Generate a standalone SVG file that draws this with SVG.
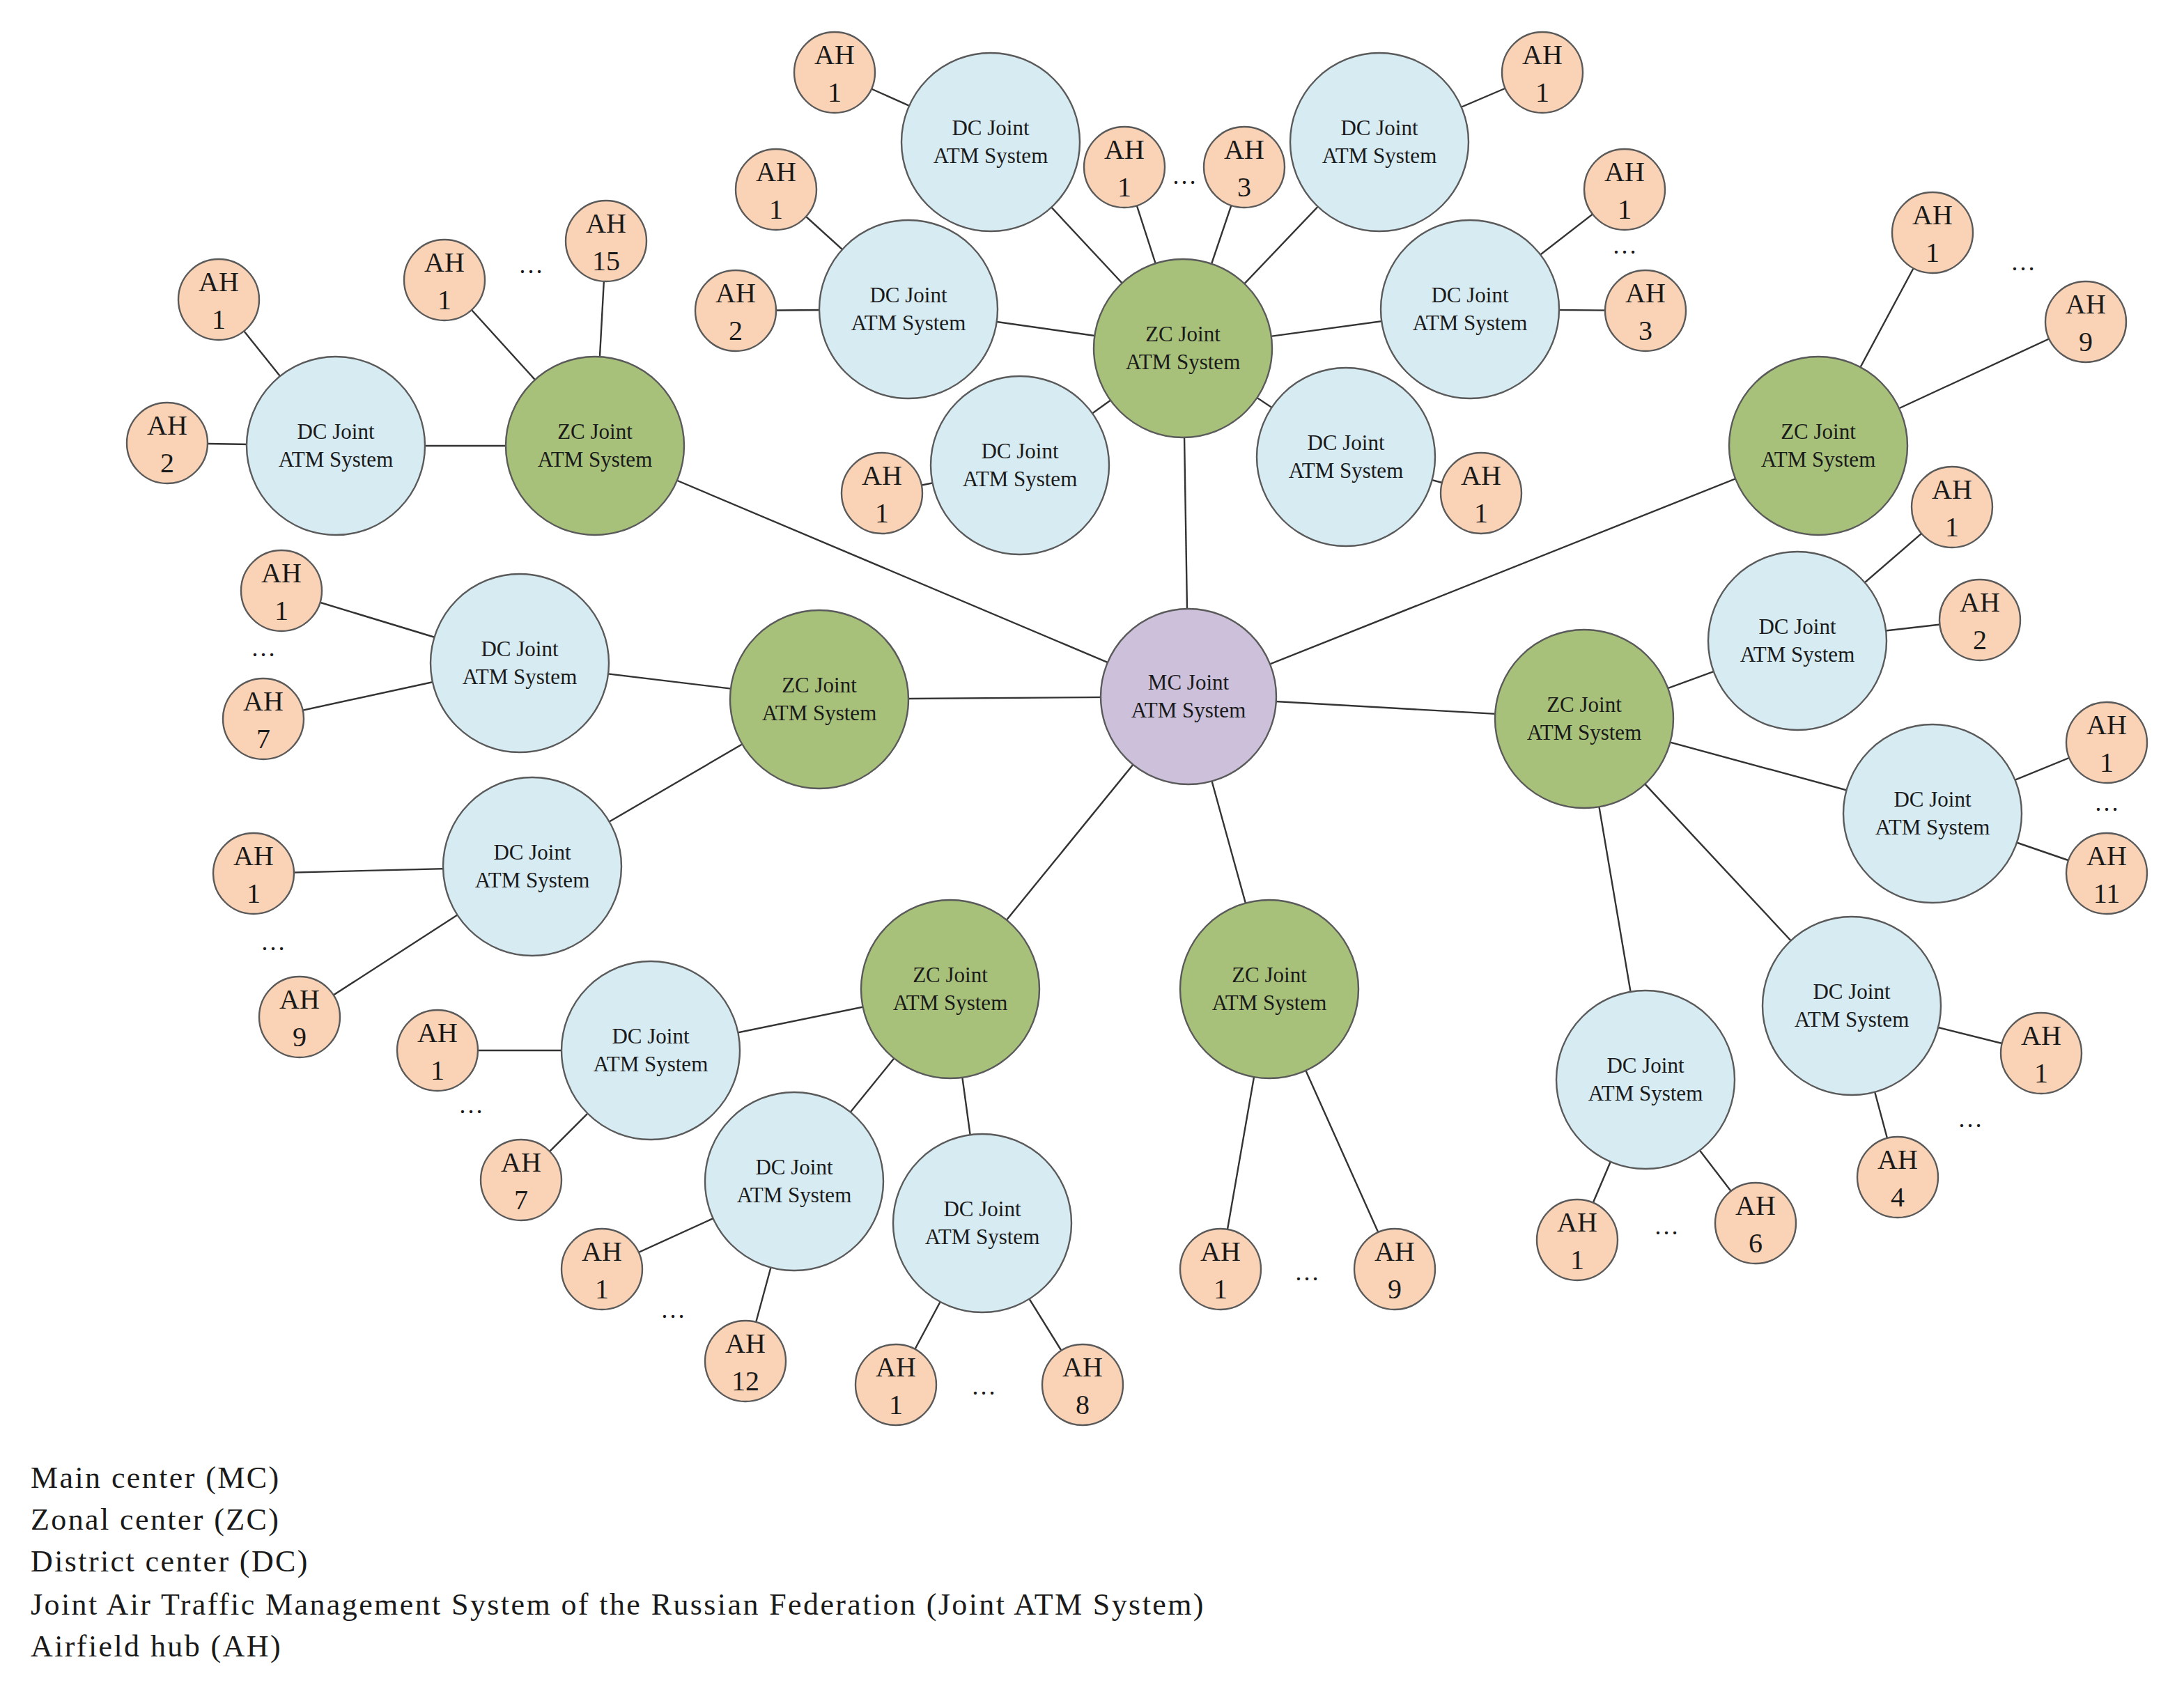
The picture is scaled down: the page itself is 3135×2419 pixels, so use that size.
<svg xmlns="http://www.w3.org/2000/svg" width="3135" height="2419" viewBox="0 0 3135 2419">
<style>
text{font-family:"Liberation Serif","Times New Roman",serif;fill:#1a1a1a;text-anchor:middle}
.n{font-size:15.5px}
.a{font-size:20px}
.l{font-size:22px;text-anchor:start;letter-spacing:1.2px}
.d{font-size:18px}
.mc{fill:#ccc0da;stroke:#5a5a5a;stroke-width:1.2}
.zc{fill:#a7c17a;stroke:#5a5a5a;stroke-width:1.2}
.dc{fill:#d7ebf3;stroke:#5a5a5a;stroke-width:1.2}
.ah{fill:#fad3b6;stroke:#5a5a5a;stroke-width:1.2}
#edges line{stroke:#333;stroke-width:1.2}
</style>
<rect width="3135" height="2419" fill="#fff"/>
<g transform="scale(2.0,2.0)">
<g id="edges">
<line x1="853" y1="500" x2="427" y2="320"/><line x1="853" y1="500" x2="849" y2="250"/><line x1="853" y1="500" x2="1305" y2="320"/><line x1="853" y1="500" x2="588" y2="502"/><line x1="853" y1="500" x2="1137" y2="516"/><line x1="853" y1="500" x2="682" y2="710"/><line x1="853" y1="500" x2="911" y2="710"/>
<line x1="427" y1="320" x2="241" y2="320"/><line x1="241" y1="320" x2="157" y2="215"/><line x1="241" y1="320" x2="120" y2="318"/><line x1="427" y1="320" x2="319" y2="201"/><line x1="427" y1="320" x2="435" y2="173"/>
<line x1="849" y1="250" x2="711" y2="102"/><line x1="849" y1="250" x2="990" y2="102"/><line x1="849" y1="250" x2="652" y2="222"/><line x1="849" y1="250" x2="1055" y2="222"/><line x1="849" y1="250" x2="732" y2="334"/><line x1="849" y1="250" x2="966" y2="328"/><line x1="849" y1="250" x2="807" y2="120"/><line x1="849" y1="250" x2="893" y2="120"/>
<line x1="711" y1="102" x2="599" y2="52"/><line x1="990" y1="102" x2="1107" y2="52"/><line x1="652" y1="222" x2="557" y2="136"/><line x1="652" y1="222" x2="528" y2="223"/><line x1="1055" y1="222" x2="1166" y2="136"/><line x1="1055" y1="222" x2="1181" y2="223"/><line x1="732" y1="334" x2="633" y2="354"/><line x1="966" y1="328" x2="1063" y2="354"/>
<line x1="1305" y1="320" x2="1387" y2="167"/><line x1="1305" y1="320" x2="1497" y2="231"/>
<line x1="588" y1="502" x2="373" y2="476"/><line x1="588" y1="502" x2="382" y2="622"/><line x1="373" y1="476" x2="202" y2="424"/><line x1="373" y1="476" x2="189" y2="516"/><line x1="382" y1="622" x2="182" y2="627"/><line x1="382" y1="622" x2="215" y2="730"/>
<line x1="1137" y1="516" x2="1290" y2="460"/><line x1="1137" y1="516" x2="1387" y2="584"/><line x1="1137" y1="516" x2="1329" y2="722"/><line x1="1137" y1="516" x2="1181" y2="775"/>
<line x1="1290" y1="460" x2="1401" y2="364"/><line x1="1290" y1="460" x2="1421" y2="445"/><line x1="1387" y1="584" x2="1512" y2="533"/><line x1="1387" y1="584" x2="1512" y2="627"/><line x1="1329" y1="722" x2="1465" y2="756"/><line x1="1329" y1="722" x2="1362" y2="845"/><line x1="1181" y1="775" x2="1132" y2="890"/><line x1="1181" y1="775" x2="1260" y2="878"/>
<line x1="911" y1="710" x2="876" y2="911"/><line x1="911" y1="710" x2="1001" y2="911"/>
<line x1="682" y1="710" x2="467" y2="754"/><line x1="682" y1="710" x2="570" y2="848"/><line x1="682" y1="710" x2="705" y2="878"/>
<line x1="705" y1="878" x2="643" y2="994"/><line x1="705" y1="878" x2="777" y2="994"/><line x1="570" y1="848" x2="432" y2="911"/><line x1="570" y1="848" x2="535" y2="977"/><line x1="467" y1="754" x2="314" y2="754"/><line x1="467" y1="754" x2="374" y2="847"/>
</g>
<g id="MC"><circle class="mc" cx="853" cy="500" r="63"/><text class="n" x="853" y="495">MC Joint</text><text class="n" x="853" y="515">ATM System</text></g>
<g id="Z1"><circle class="zc" cx="427" cy="320" r="64"/><text class="n" x="427" y="315">ZC Joint</text><text class="n" x="427" y="335">ATM System</text></g>
<g id="Z2"><circle class="zc" cx="849" cy="250" r="64"/><text class="n" x="849" y="245">ZC Joint</text><text class="n" x="849" y="265">ATM System</text></g>
<g id="Z3"><circle class="zc" cx="1305" cy="320" r="64"/><text class="n" x="1305" y="315">ZC Joint</text><text class="n" x="1305" y="335">ATM System</text></g>
<g id="Z4"><circle class="zc" cx="588" cy="502" r="64"/><text class="n" x="588" y="497">ZC Joint</text><text class="n" x="588" y="517">ATM System</text></g>
<g id="Z5"><circle class="zc" cx="1137" cy="516" r="64"/><text class="n" x="1137" y="511">ZC Joint</text><text class="n" x="1137" y="531">ATM System</text></g>
<g id="Z6"><circle class="zc" cx="682" cy="710" r="64"/><text class="n" x="682" y="705">ZC Joint</text><text class="n" x="682" y="725">ATM System</text></g>
<g id="Z7"><circle class="zc" cx="911" cy="710" r="64"/><text class="n" x="911" y="705">ZC Joint</text><text class="n" x="911" y="725">ATM System</text></g>
<g id="D1"><circle class="dc" cx="241" cy="320" r="64"/><text class="n" x="241" y="315">DC Joint</text><text class="n" x="241" y="335">ATM System</text></g>
<g id="D2"><circle class="dc" cx="711" cy="102" r="64"/><text class="n" x="711" y="97">DC Joint</text><text class="n" x="711" y="117">ATM System</text></g>
<g id="D3"><circle class="dc" cx="990" cy="102" r="64"/><text class="n" x="990" y="97">DC Joint</text><text class="n" x="990" y="117">ATM System</text></g>
<g id="D4"><circle class="dc" cx="652" cy="222" r="64"/><text class="n" x="652" y="217">DC Joint</text><text class="n" x="652" y="237">ATM System</text></g>
<g id="D5"><circle class="dc" cx="1055" cy="222" r="64"/><text class="n" x="1055" y="217">DC Joint</text><text class="n" x="1055" y="237">ATM System</text></g>
<g id="D6"><circle class="dc" cx="732" cy="334" r="64"/><text class="n" x="732" y="329">DC Joint</text><text class="n" x="732" y="349">ATM System</text></g>
<g id="D7"><circle class="dc" cx="966" cy="328" r="64"/><text class="n" x="966" y="323">DC Joint</text><text class="n" x="966" y="343">ATM System</text></g>
<g id="D8"><circle class="dc" cx="373" cy="476" r="64"/><text class="n" x="373" y="471">DC Joint</text><text class="n" x="373" y="491">ATM System</text></g>
<g id="D9"><circle class="dc" cx="382" cy="622" r="64"/><text class="n" x="382" y="617">DC Joint</text><text class="n" x="382" y="637">ATM System</text></g>
<g id="D10"><circle class="dc" cx="1290" cy="460" r="64"/><text class="n" x="1290" y="455">DC Joint</text><text class="n" x="1290" y="475">ATM System</text></g>
<g id="D11"><circle class="dc" cx="1387" cy="584" r="64"/><text class="n" x="1387" y="579">DC Joint</text><text class="n" x="1387" y="599">ATM System</text></g>
<g id="D12"><circle class="dc" cx="1329" cy="722" r="64"/><text class="n" x="1329" y="717">DC Joint</text><text class="n" x="1329" y="737">ATM System</text></g>
<g id="D13"><circle class="dc" cx="1181" cy="775" r="64"/><text class="n" x="1181" y="770">DC Joint</text><text class="n" x="1181" y="790">ATM System</text></g>
<g id="D14"><circle class="dc" cx="467" cy="754" r="64"/><text class="n" x="467" y="749">DC Joint</text><text class="n" x="467" y="769">ATM System</text></g>
<g id="D15"><circle class="dc" cx="570" cy="848" r="64"/><text class="n" x="570" y="843">DC Joint</text><text class="n" x="570" y="863">ATM System</text></g>
<g id="D16"><circle class="dc" cx="705" cy="878" r="64"/><text class="n" x="705" y="873">DC Joint</text><text class="n" x="705" y="893">ATM System</text></g>
<g id="AH">
<g id="ah1"><circle class="ah" cx="157" cy="215" r="29"/><text class="a" x="157" y="209">AH</text><text class="a" x="157" y="236">1</text></g>
<g id="ah2"><circle class="ah" cx="120" cy="318" r="29"/><text class="a" x="120" y="312">AH</text><text class="a" x="120" y="339">2</text></g>
<g id="ah3"><circle class="ah" cx="319" cy="201" r="29"/><text class="a" x="319" y="195">AH</text><text class="a" x="319" y="222">1</text></g>
<g id="ah4"><circle class="ah" cx="435" cy="173" r="29"/><text class="a" x="435" y="167">AH</text><text class="a" x="435" y="194">15</text></g>
<g id="ah5"><circle class="ah" cx="599" cy="52" r="29"/><text class="a" x="599" y="46">AH</text><text class="a" x="599" y="73">1</text></g>
<g id="ah6"><circle class="ah" cx="1107" cy="52" r="29"/><text class="a" x="1107" y="46">AH</text><text class="a" x="1107" y="73">1</text></g>
<g id="ah7"><circle class="ah" cx="807" cy="120" r="29"/><text class="a" x="807" y="114">AH</text><text class="a" x="807" y="141">1</text></g>
<g id="ah8"><circle class="ah" cx="893" cy="120" r="29"/><text class="a" x="893" y="114">AH</text><text class="a" x="893" y="141">3</text></g>
<g id="ah9"><circle class="ah" cx="557" cy="136" r="29"/><text class="a" x="557" y="130">AH</text><text class="a" x="557" y="157">1</text></g>
<g id="ah10"><circle class="ah" cx="528" cy="223" r="29"/><text class="a" x="528" y="217">AH</text><text class="a" x="528" y="244">2</text></g>
<g id="ah11"><circle class="ah" cx="1166" cy="136" r="29"/><text class="a" x="1166" y="130">AH</text><text class="a" x="1166" y="157">1</text></g>
<g id="ah12"><circle class="ah" cx="1181" cy="223" r="29"/><text class="a" x="1181" y="217">AH</text><text class="a" x="1181" y="244">3</text></g>
<g id="ah13"><circle class="ah" cx="633" cy="354" r="29"/><text class="a" x="633" y="348">AH</text><text class="a" x="633" y="375">1</text></g>
<g id="ah14"><circle class="ah" cx="1063" cy="354" r="29"/><text class="a" x="1063" y="348">AH</text><text class="a" x="1063" y="375">1</text></g>
<g id="ah15"><circle class="ah" cx="1387" cy="167" r="29"/><text class="a" x="1387" y="161">AH</text><text class="a" x="1387" y="188">1</text></g>
<g id="ah16"><circle class="ah" cx="1497" cy="231" r="29"/><text class="a" x="1497" y="225">AH</text><text class="a" x="1497" y="252">9</text></g>
<g id="ah17"><circle class="ah" cx="1401" cy="364" r="29"/><text class="a" x="1401" y="358">AH</text><text class="a" x="1401" y="385">1</text></g>
<g id="ah18"><circle class="ah" cx="1421" cy="445" r="29"/><text class="a" x="1421" y="439">AH</text><text class="a" x="1421" y="466">2</text></g>
<g id="ah19"><circle class="ah" cx="1512" cy="533" r="29"/><text class="a" x="1512" y="527">AH</text><text class="a" x="1512" y="554">1</text></g>
<g id="ah20"><circle class="ah" cx="1512" cy="627" r="29"/><text class="a" x="1512" y="621">AH</text><text class="a" x="1512" y="648">11</text></g>
<g id="ah21"><circle class="ah" cx="1465" cy="756" r="29"/><text class="a" x="1465" y="750">AH</text><text class="a" x="1465" y="777">1</text></g>
<g id="ah22"><circle class="ah" cx="1362" cy="845" r="29"/><text class="a" x="1362" y="839">AH</text><text class="a" x="1362" y="866">4</text></g>
<g id="ah23"><circle class="ah" cx="1132" cy="890" r="29"/><text class="a" x="1132" y="884">AH</text><text class="a" x="1132" y="911">1</text></g>
<g id="ah24"><circle class="ah" cx="1260" cy="878" r="29"/><text class="a" x="1260" y="872">AH</text><text class="a" x="1260" y="899">6</text></g>
<g id="ah25"><circle class="ah" cx="876" cy="911" r="29"/><text class="a" x="876" y="905">AH</text><text class="a" x="876" y="932">1</text></g>
<g id="ah26"><circle class="ah" cx="1001" cy="911" r="29"/><text class="a" x="1001" y="905">AH</text><text class="a" x="1001" y="932">9</text></g>
<g id="ah27"><circle class="ah" cx="643" cy="994" r="29"/><text class="a" x="643" y="988">AH</text><text class="a" x="643" y="1015">1</text></g>
<g id="ah28"><circle class="ah" cx="777" cy="994" r="29"/><text class="a" x="777" y="988">AH</text><text class="a" x="777" y="1015">8</text></g>
<g id="ah29"><circle class="ah" cx="432" cy="911" r="29"/><text class="a" x="432" y="905">AH</text><text class="a" x="432" y="932">1</text></g>
<g id="ah30"><circle class="ah" cx="535" cy="977" r="29"/><text class="a" x="535" y="971">AH</text><text class="a" x="535" y="998">12</text></g>
<g id="ah31"><circle class="ah" cx="314" cy="754" r="29"/><text class="a" x="314" y="748">AH</text><text class="a" x="314" y="775">1</text></g>
<g id="ah32"><circle class="ah" cx="374" cy="847" r="29"/><text class="a" x="374" y="841">AH</text><text class="a" x="374" y="868">7</text></g>
<g id="ah33"><circle class="ah" cx="182" cy="627" r="29"/><text class="a" x="182" y="621">AH</text><text class="a" x="182" y="648">1</text></g>
<g id="ah34"><circle class="ah" cx="215" cy="730" r="29"/><text class="a" x="215" y="724">AH</text><text class="a" x="215" y="751">9</text></g>
<g id="ah35"><circle class="ah" cx="202" cy="424" r="29"/><text class="a" x="202" y="418">AH</text><text class="a" x="202" y="445">1</text></g>
<g id="ah36"><circle class="ah" cx="189" cy="516" r="29"/><text class="a" x="189" y="510">AH</text><text class="a" x="189" y="537">7</text></g>
</g>
<g id="dots">
<text class="d" x="381" y="196">…</text><text class="d" x="850" y="132">…</text><text class="d" x="1166" y="182">…</text><text class="d" x="1452" y="194">…</text><text class="d" x="1512" y="582">…</text><text class="d" x="1414" y="809">…</text><text class="d" x="1196" y="886">…</text><text class="d" x="938" y="919">…</text><text class="d" x="706" y="1001">…</text><text class="d" x="483" y="946">…</text><text class="d" x="338" y="799">…</text><text class="d" x="196" y="682">…</text><text class="d" x="189" y="471">…</text>
</g>
<g id="legend">
<text class="l" x="22" y="1068">Main center (MC)</text>
<text class="l" x="22" y="1098">Zonal center (ZC)</text>
<text class="l" x="22" y="1128">District center (DC)</text>
<text class="l" x="22" y="1159">Joint Air Traffic Management System of the Russian Federation (Joint ATM System)</text>
<text class="l" x="22" y="1189">Airfield hub (AH)</text>
</g>
</g>
</svg>
